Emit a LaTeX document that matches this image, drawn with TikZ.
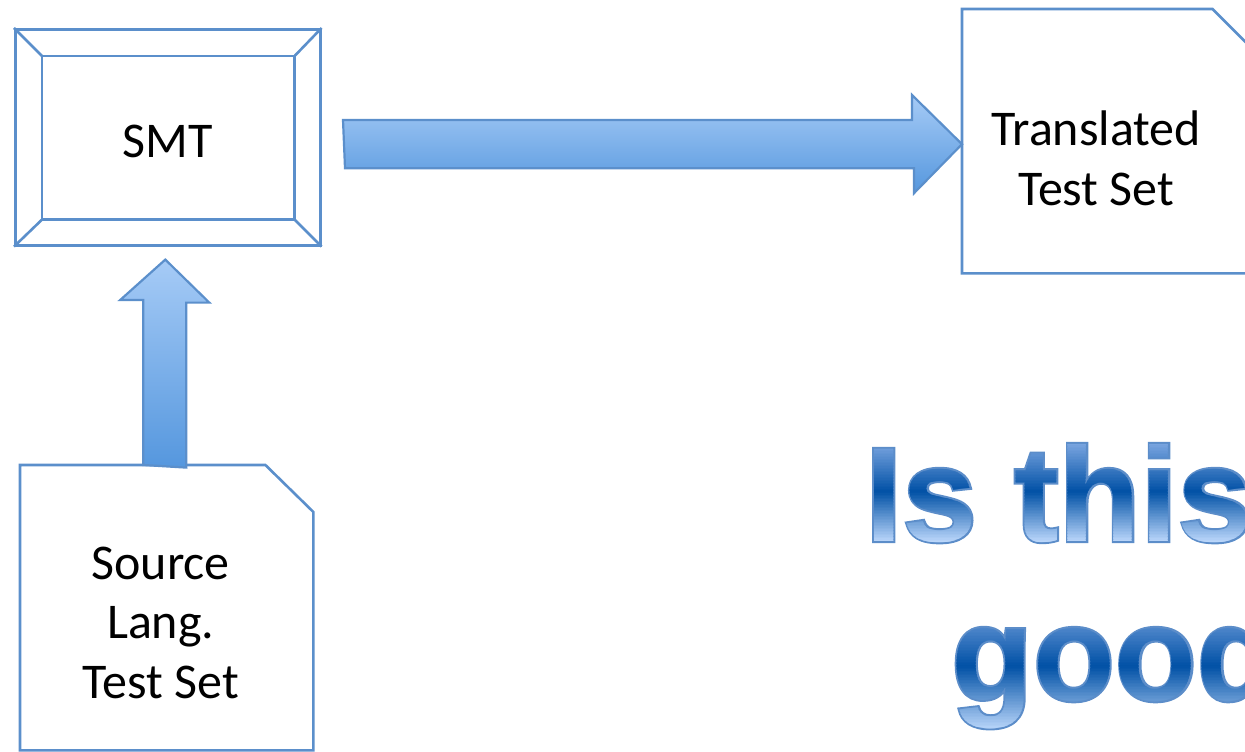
\documentclass[tikz,border=0pt]{standalone}
\usepackage{fontspec}
\setmainfont{Carlito}
\newfontfamily\wordart{Liberation Sans Bold}
\newfontfamily\wordline{Liberation Sans Bold}[FakeBold=3]
\usepackage{xcolor}
\usepackage{tikz}
\usetikzlibrary{positioning}

\definecolor{lineblue}{HTML}{5B8FCB}
\definecolor{arrowtop}{HTML}{A6CBF6}
\definecolor{arrowbot}{HTML}{5597DE}
\definecolor{watop}{HTML}{7EA8E2}
\definecolor{wamid}{HTML}{0050A5}
\definecolor{wabot}{HTML}{BAD6FA}
\definecolor{waline}{HTML}{5C8DC9}

\begin{document}
\begin{tikzpicture}[x=1pt, y=-1pt,
    docline/.style={draw=lineblue, line width=2.6pt},
    docbox/.style={minimum width=#1, inner sep=0pt, anchor=north west},
    boxtext/.style={font=\fontsize{50}{59.5}\selectfont, align=center, inner sep=0pt},
    blockarrow/.style={draw=lineblue, line width=2.2pt, top color=arrowtop, bottom color=arrowbot},
    bigword/.style={font=\wordline\fontsize{134}{134}\selectfont, text=waline, inner sep=0pt, anchor=base west},
    bigfill/.style={font=\wordart\fontsize{134}{134}\selectfont, text=bandcol, inner sep=0pt, anchor=base west}]
    \useasboundingbox (0,0) rectangle (1245,752);
    \clip (0,0) rectangle (1245,752);

    % SMT box
    \node[docline, docbox=305pt, minimum height=216pt] (smt) at (14,28) {};
    \draw[docline] ([xshift=28pt,yshift=-28pt]smt.north west) rectangle ([xshift=-27pt,yshift=27pt]smt.south east);
    \foreach \c/\dx/\dy in {north west/28/-28, north east/-27/-28, south west/28/27, south east/-27/27}
        \draw[docline] (smt.\c) -- ([xshift=\dx pt,yshift=\dy pt]smt.\c);
    \node[boxtext] (smtlabel) at ([yshift=-4pt]smt.center) {SMT};

    % documents
    \node[docbox=293pt, minimum height=285pt] (src) at (20,465) {};
    \draw[docline] (src.north west) -- ([xshift=-48pt]src.north east) -- ([yshift=-47pt]src.north east)
        -- (src.south east) -- (src.south west) -- cycle;
    \node[boxtext] (srclabel) at ([xshift=-6pt,yshift=-15pt]src.center) {Source\\Lang.\\Test Set};

    \node[docbox=296pt, minimum height=264pt] (tts) at (962,9) {};
    \draw[docline] (tts.north west) -- ([xshift=-46pt]tts.north east) -- ([yshift=-46pt]tts.north east)
        -- (tts.south east) -- (tts.south west) -- cycle;
    \node[boxtext] (ttslabel) at ([xshift=-14pt,yshift=-17pt]tts.center) {Translated\\Test Set};

    % block arrows
    \coordinate (rbase) at (343,144);
    \draw[blockarrow] ([yshift=24pt]rbase) -- ++(569,0) -- ++(0,-25) -- ([yshift=-3pt]tts.west)
        -- ++(-48,49) -- ++(0,-25) -- ++(-569,0) -- cycle;
    \coordinate (ubase) at ([xshift=-2.5pt]src.north);
    \draw[blockarrow] ([xshift=-21pt]ubase) -- ++(0,-165) -- ++(-23,0) -- ([xshift=-2.5pt,yshift=-13pt]smt.south)
        -- ++(44,43) -- ++(-23,0) -- ++(0,165) -- cycle;

    % question, outline first, then banded fill
    \node[bigword] (isthis) at (865,541) {Is this};
    \foreach \i in {0,...,67} {
        \pgfmathtruncatemacro\p{\i<34 ? 100*\i/33.5 : 100*(67-\i)/33.5}
        \ifnum\i<34 \colorlet{bandcol}{wamid!\p!watop}\else\colorlet{bandcol}{wamid!\p!wabot}\fi
        \begin{scope}
            \clip (850,{441+1.5*\i}) rectangle (1245,{442.7+1.5*\i});
            \node[bigfill] at (isthis.base west) {Is this};
        \end{scope}
    }
    \node[bigword] (good) at (951,700) {good};
    \foreach \i in {0,...,85} {
        \pgfmathtruncatemacro\p{\i<43 ? 100*\i/42.5 : 100*(85-\i)/42.5}
        \ifnum\i<43 \colorlet{bandcol}{wamid!\p!watop}\else\colorlet{bandcol}{wamid!\p!wabot}\fi
        \begin{scope}
            \clip (930,{602+1.5*\i}) rectangle (1245,{603.7+1.5*\i});
            \node[bigfill] at (good.base west) {good};
        \end{scope}
    }
\end{tikzpicture}
\end{document}
